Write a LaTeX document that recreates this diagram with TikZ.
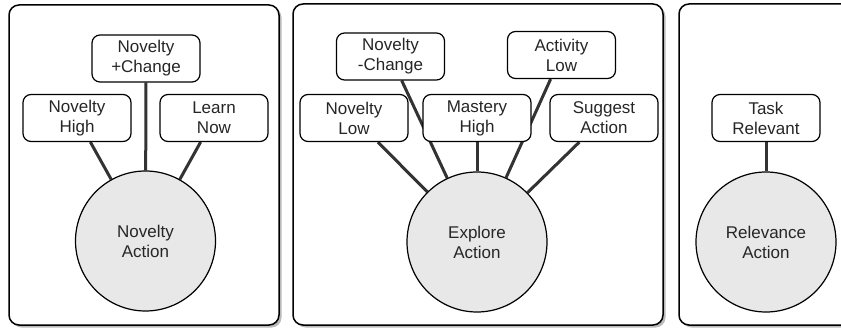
\documentclass[tikz,border=0pt]{standalone}
\usepackage{fontspec}
\setmainfont{Liberation Sans}
\usetikzlibrary{shadows,backgrounds}

\begin{document}
\begin{tikzpicture}[
		x=1pt, y=-1pt,
		every node/.style={font=\fontsize{17}{20}\selectfont, text=black!85, align=center},
		panel/.style={draw=black, line width=1.5pt, rounded corners=10pt, fill=white,
			drop shadow={shadow xshift=2.5pt, shadow yshift=-2.5pt, fill=black!45, opacity=0.6}},
		cue/.style={draw=black, line width=1.2pt, rounded corners=8pt, fill=white,
			minimum width=108pt, minimum height=47pt, inner sep=2pt},
		act/.style={circle, draw=black, line width=1.2pt, fill=black!9, minimum size=140pt, inner sep=0pt},
		link/.style={draw=black!80, line width=3pt}
	]
	\useasboundingbox (0,0) rectangle (841,331);

	% novelty
	\node[act] (novact) at (145.5,241) {Novelty\\Action};
	\node[cue] (nhigh) at (77,118) {Novelty\\High};
	\node[cue] (nchange) at (146,58.5) {Novelty\\+Change};
	\node[cue] (learn) at (214,118) {Learn\\Now};

	% explore
	\node[act] (expact) at (477,242) {Explore\\Action};
	\node[cue] (nlow) at (354,118) {Novelty\\Low};
	\node[cue] (nminus) at (390.5,56.5) {Novelty\\-Change};
	\node[cue] (mhigh) at (477,118) {Mastery\\High};
	\node[cue] (alow) at (561.5,55) {Activity\\Low};
	\node[cue] (suggest) at (604,118) {Suggest\\Action};

	% relevance
	\node[act] (relact) at (766,242) {Relevance\\Action};
	\node[cue] (task) at (766,118) {Task\\Relevant};

	\begin{scope}[on background layer]
		\draw[panel] (9,5) rectangle (279,325);
		\draw[panel] (293,4) rectangle (663,325);
		\draw[panel] (679,4) rectangle (960,325);
		\foreach \a/\b in {nhigh/novact, nchange/novact, learn/novact,
			nlow/expact, nminus/expact, mhigh/expact, alow/expact, suggest/expact,
			task/relact}
			\draw[link] (\a) -- (\b);
	\end{scope}
\end{tikzpicture}
\end{document}
